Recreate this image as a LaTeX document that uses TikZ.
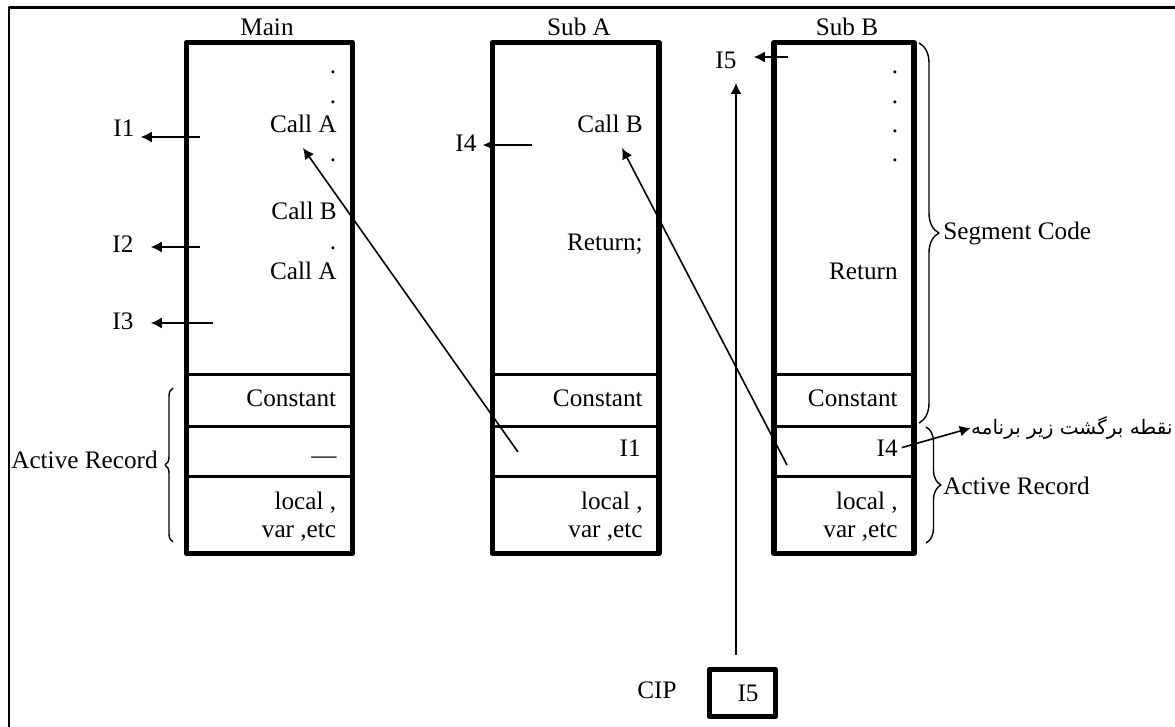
\documentclass[tikz,border=0pt]{standalone}
\usepackage{fontspec}
\setmainfont{Liberation Serif}
\newfontfamily\arabicfont[Script=Arabic]{DejaVu Sans}
\TeXXeTstate=1
\usetikzlibrary{calc,arrows.meta,decorations.pathreplacing}
\tikzset{
  txt/.style={inner sep=0pt,font=\fontsize{12.6}{15}\selectfont},
  addr/.style={txt,inner xsep=3pt},
  ptr/.style={->,line width=0.8pt},
  thickbox/.style={line width=2.6pt},
  cellsep/.style={line width=1.3pt},
  curly/.style={decorate,decoration={brace,amplitude=#1},line width=0.7pt},
}

\begin{document}
\begin{tikzpicture}[x=0.5pt,y=-0.5pt,>={Latex[length=5.5pt,width=5.5pt]},line join=round]
  \useasboundingbox (0,0) rectangle (1175,727);
  % outer frame, cut off at right and bottom
  \draw[line width=1.2pt] (1175,7.5) -| (9,727);
  \def\ytop{42.5}
  \def\ybot{553.5}
  % the three stacks: code part on top, activation record cells below
  \foreach \xl/\xr/\xt/\nm/\lab in {186.5/352.5/267/main/Main, 492.5/659/579/suba/Sub A, 774/914/847/subb/Sub B}{
    \foreach \y in {374.5,426.5,476.5}
      \draw[cellsep] (\xl,\y) -- (\xr,\y);
    \draw[thickbox] (\xl,\ytop) rectangle (\xr,\ybot);
    \node[txt,anchor=base] (\nm) at (\xt,36) {\lab};
    \node[txt,anchor=base east] (\nm-const) at (\xr-16,407) {Constant};
    \node[txt,anchor=base east] (\nm-loc) at (\xr-16,510) {local ,};
    \node[txt,anchor=base east] (\nm-var) at (\xr-16,538) {var ,etc};
  }
  % Main
  \foreach \y [count=\i] in {72,102,160,248}
    \node[txt] (mdot\i) at (333,\y) {.};
  \node[txt,anchor=base east] (mcalla) at (337,133) {Call A};
  \node[txt,anchor=base east] (mcallb) at (337,220) {Call B};
  \node[txt,anchor=base east] (mcalla2) at (337,280) {Call A};
  \node[txt,anchor=base east] (mnone) at (337,464) {\textemdash};
  \node[addr,anchor=base west] (i1) at (107,137) {I1};
  \node[addr,anchor=base west] (i2) at (106,253) {I2};
  \node[addr,anchor=base west] (i3) at (106,330) {I3};
  \coordinate (m1) at (200,137);
  \coordinate (m2) at (200,247);
  \coordinate (m3) at (213,323);
  \draw[ptr] (m1) -- (m1 -| i1.east);
  \draw[ptr,shorten >=5.5pt] (m2) -- (m2 -| i2.east);
  \draw[ptr,shorten >=5.5pt] (m3) -- (m3 -| i3.east);
  % Sub A
  \node[txt,anchor=base east] (acallb) at (643,133) {Call B};
  \node[txt,anchor=base east] (aret) at (643,251) {Return;};
  \node[txt,anchor=base east] (ai1) at (641,457) {I1};
  \node[addr,anchor=base west] (i4) at (449,152) {I4};
  \coordinate (a1) at (532,145);
  \draw[ptr] (a1) -- (a1 -| i4.east);
  % Sub B
  \foreach \y [count=\i] in {72,102,131,160}
    \node[txt] (bdot\i) at (895,\y) {.};
  \node[txt,anchor=base east] (bret) at (898,280) {Return};
  \node[txt,anchor=base east] (bi4) at (898,457) {I4};
  \node[addr,anchor=base west] (i5) at (709,69) {I5};
  \coordinate (b1) at (788,57);
  \draw[ptr,shorten >=5.5pt] (b1) -- (b1 -| i5.east);
  % return links back to the caller
  \coordinate (retA) at (518,452);
  \coordinate (tgtA) at (303,148);
  \coordinate (retB) at (787,465);
  \coordinate (tgtB) at (622,148);
  \draw[ptr] (retA) -- (tgtA);
  \draw[ptr] (retB) -- (tgtB);
  \node[anchor=east,inner sep=0pt,font=\arabicfont\fontsize{10}{12}\selectfont] (retpt) at (1173,428)
    {\beginR نقطه برگشت زیر برنامه\endR};
  \draw[ptr,shorten <=2pt] (bi4.east) -- (retpt.west);
  % braces
  \draw[curly=4pt] (173,542) -- (173,388);
  \node[txt,anchor=base east] (arleft) at (158,469) {Active Record};
  \draw[curly=10pt] (919,43) -- (919,423);
  \node[txt,anchor=base west] (segcode) at (943,240) {Segment Code};
  \draw[curly=7.5pt] (926,427) -- (926,543);
  \node[txt,anchor=base west] (arright) at (943,495) {Active Record};
  % current instruction pointer
  \node[txt,anchor=base west] (cip) at (637,699) {CIP};
  \node[txt,draw,thickbox,minimum width=33pt,minimum height=23.5pt] (cipreg) at (742.5,693) {\hspace{5.5pt}I5};
  \coordinate (cipup) at (736,655);
  \coordinate (i5low) at (736,83);
  \draw[ptr] (cipup) -- (i5low);
\end{tikzpicture}
\end{document}
